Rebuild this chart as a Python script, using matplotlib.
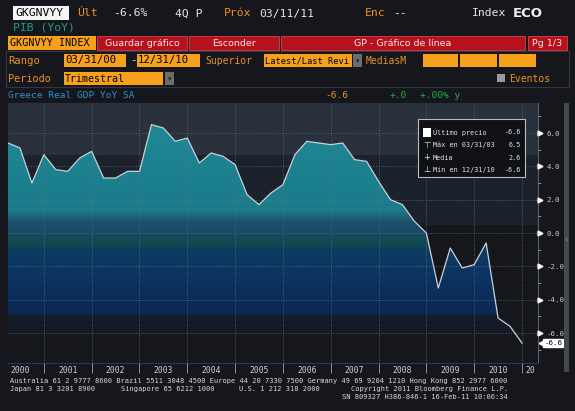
import numpy as np
import matplotlib
matplotlib.use('Agg')
import matplotlib.pyplot as plt
from matplotlib.colors import LinearSegmentedColormap
from matplotlib.patches import Rectangle
from matplotlib.transforms import blended_transform_factory

# Greece real GDP YoY SA, quarterly 2000Q1 - 2010Q4
years = np.repeat(np.arange(2000, 2011), 4)
quarters = np.tile([1, 2, 3, 4], 11)
gdp_yoy = [5.4, 5.1, 3.0, 4.7,
           3.8, 3.7, 4.5, 4.9,
           3.3, 3.3, 3.7, 3.7,
           6.5, 6.3, 5.5, 5.7,
           4.2, 4.8, 4.6, 4.1,
           2.3, 1.7, 2.4, 2.9,
           4.7, 5.5, 5.4, 5.3,
           5.4, 4.4, 4.3, 3.1,
           2.0, 1.7, 0.7, 0.0,
           -3.3, -0.9, -2.1, -1.9,
           -0.6, -5.1, -5.6, -6.6]
year_labels = ['2000', '2001', '2002', '2003', '2004', '2005',
               '2006', '2007', '2008', '2009', '2010', '20']
yticks = [-6, -4, -2, 0, 2, 4, 6]
quarter_end = {1: '03/31', 2: '06/30', 3: '09/30', 4: '12/31'}

BG = '#16171c'
ORANGE = '#e8922a'
OBOX = '#f6a01c'
RED = '#b5121e'
WHITE = '#e6e6e6'
MONO = 'DejaVu Sans Mono'

W, H = 575, 411
fig = plt.figure(figsize=(W / 100, H / 100), dpi=100, facecolor=BG)


def T(x, y, s, **kw):
    kw.setdefault('family', MONO)
    kw.setdefault('va', 'center')
    kw.setdefault('color', WHITE)
    kw.setdefault('fontsize', 7.5)
    fig.text(x / W, 1 - y / H, s, **kw)


def box(x0, y0, x1, y1, fc, **kw):
    fig.patches.append(Rectangle((x0 / W, 1 - y1 / H), (x1 - x0) / W, (y1 - y0) / H,
                                 transform=fig.transFigure, facecolor=fc, **kw))


# ---- header ----
box(13, 6, 69, 20, '#f4f4f4', lw=0)
T(15, 13.5, 'GKGNVYY', color='black', fontsize=8.2)
T(77, 13.5, 'Últ', color=ORANGE, fontsize=8.2)
T(113, 13.5, '-6.6%', fontsize=8.2)
T(175, 13.5, '4Q P', fontsize=8.2)
T(224, 13.5, 'Próx', color=ORANGE, fontsize=8.2)
T(259, 13.5, '03/11/11', fontsize=8.2)
T(365, 13.5, 'Enc', color=ORANGE, fontsize=8.2)
T(393, 13.5, '--', fontsize=8.2)
T(472, 13.5, 'Index', fontsize=8.2)
T(513, 13.5, 'ECO', family='DejaVu Sans', weight='bold', fontsize=9.5, color='#f0f0f0')
T(13, 28, 'PIB (YoY)', color='#1f9e8c', fontsize=8.2)

box(8, 36, 96, 50, OBOX, lw=0)
T(10, 43, 'GKGNVYY INDEX', color='black', fontsize=7.3)
for x0, x1, s in [(97, 187, 'Guardar gráfico'), (189, 279, 'Esconder'),
                  (281, 525, 'GP - Gráfico de línea'), (528, 567, 'Pg 1/3')]:
    box(x0, 36, x1, 50, RED, edgecolor='#d8404c', lw=0.6)
    T((x0 + x1) / 2, 43, s, ha='center', family='DejaVu Sans', color='#ffe6e6', fontsize=6.8)

fig.patches.append(Rectangle((6 / W, 1 - 87 / H), 563 / W, 36 / H, transform=fig.transFigure,
                             facecolor='none', edgecolor='#34363d', lw=0.8))
T(8, 60.5, 'Rango', color=ORANGE, fontsize=7.6)
box(64, 54, 126, 67, OBOX, lw=0)
T(65, 60.5, '03/31/00', color='black', fontsize=7.7)
T(130, 60.5, '-', fontsize=7.6)
box(137, 54, 200, 67, OBOX, lw=0)
T(138, 60.5, '12/31/10', color='black', fontsize=7.7)
T(205, 60.5, 'Superior', color=ORANGE, fontsize=7.0)
box(264, 54, 352, 67, OBOX, lw=0)
T(265, 60.5, 'Latest/Last Revi', color='black', fontsize=6.3)
box(353, 54, 362, 67, '#6c6c6c', lw=0)
T(357.5, 61, '▾', ha='center', color='#222222', fontsize=5, family='DejaVu Sans')
T(366, 60.5, 'MediasM', color=ORANGE, fontsize=7.0)
for x0, x1 in [(423, 458), (460, 497), (499, 536)]:
    box(x0, 54, x1, 67, OBOX, lw=0)

T(8, 78.5, 'Periodo', color=ORANGE, fontsize=7.4)
box(64, 72, 163, 85, OBOX, lw=0)
T(65, 78.5, 'Trimestral', color='black', fontsize=7.2)
box(165, 72, 174, 85, '#6c6c6c', lw=0)
T(169.5, 79, '▾', ha='center', color='#222222', fontsize=5, family='DejaVu Sans')
box(497, 74, 505, 82, '#9a9a9a', lw=0)
T(509, 78.5, 'Eventos', color=ORANGE, fontsize=7.0)

T(8, 96, 'Greece Real GDP YoY SA', color='#2b8fcc', fontsize=6.8)
T(325, 96, f'{gdp_yoy[-1]:.1f}', color=ORANGE, fontsize=6.8)
T(390, 96, '+.0', color='#22b04a', fontsize=6.8)
T(420, 96, '+.00% y', color='#22b04a', fontsize=6.8)

# ---- chart ----
x = years + quarters / 4.0
ymin, ymax = -7.8, 7.8
xmin, xmax = 2000.25, 2011.335

ax = fig.add_axes([8 / W, 1 - 363 / H, 530 / W, 260 / H])
ax.set_facecolor(BG)
ax.axhspan(4.7, ymax, color='#28313c', lw=0, zorder=0)
ax.axhspan(0.5, 4.7, color='#1c222c', lw=0, zorder=0)

stops = [(7.8, '#1f8b99'), (1.3, '#1b7b8a'), (0.9, '#1d5f78'), (0.6, '#1d4f6c'),
         (0.0, '#1a4966'), (-0.4, '#134a52'), (-0.9, '#114450'), (-1.0, '#0e3c62'),
         (-2.2, '#0c3662'), (-4.0, '#0a2d5a'), (-4.9, '#0a2852'), (-5.0, '#141c2a'),
         (-6.0, '#141a26'), (-6.1, BG), (-7.8, BG)]
cmap = LinearSegmentedColormap.from_list(
    'bbg', [((v - ymin) / (ymax - ymin), c) for v, c in stops[::-1]])
poly = ax.fill_between(x, gdp_yoy, ymin, facecolor='none', lw=0)
im = ax.imshow(np.linspace(0, 1, 400).reshape(-1, 1), extent=[xmin, xmax, ymin, ymax],
               origin='lower', aspect='auto', cmap=cmap, zorder=1, interpolation='nearest')
im.set_clip_path(poly.get_paths()[0], ax.transData)
ax.plot(x, gdp_yoy, color='#c9d1d8', lw=0.9, zorder=3)

ax.set_xlim(xmin, xmax)
ax.set_ylim(ymin, ymax)

ax.set_xticks([2000.5 + i for i in range(11)] + [2011.17])
ax.set_xticklabels(year_labels)
ax.set_xticks(np.arange(2001, 2012), minor=True)
ax.tick_params(axis='x', which='major', length=0, pad=2, labelsize=5.8,
               labelcolor='#d0d0d0', labelfontfamily=MONO)
ax.tick_params(axis='x', which='minor', length=7.5, width=0.7, color='#8c8c94')
ax.xaxis.grid(True, which='minor', ls=(0, (1, 2)), color='#66707c', lw=0.6, zorder=2)

ax.yaxis.tick_right()
ax.set_yticks(yticks)
ax.set_yticklabels([f'{v:.1f}' for v in yticks])
ax.set_yticks(np.arange(-7, 8, 2), minor=True)
ax.tick_params(axis='y', which='major', length=0, pad=6, labelsize=5.4,
               labelcolor='#c8c8c8', labelfontfamily=MONO)
ax.tick_params(axis='y', which='minor', length=2, width=0.7, color='#8c8c94')
ax.yaxis.grid(True, which='major', ls=(0, (1, 2)), color='#66707c', lw=0.6, zorder=2)
ax.set_axisbelow(False)

for side in ['left', 'top']:
    ax.spines[side].set_visible(False)
ax.spines['right'].set_color('#5c6068')
ax.spines['right'].set_linewidth(0.8)
ax.spines['bottom'].set_color('#2c3c90')
ax.spines['bottom'].set_linestyle(':')

tr = blended_transform_factory(ax.transAxes, ax.transData)
ax.plot([1.004] * len(yticks), yticks, ls='none', marker='>', ms=3.5, color='white',
        transform=tr, clip_on=False, zorder=5)

last = gdp_yoy[-1]
ax.plot([1.006], [last], marker='<', ms=3.5, color='white', transform=tr, clip_on=False)
ax.text(1.012, last, f'{last:.1f}', transform=tr, ha='left', va='center', fontsize=5.4,
        family=MONO, color='black',
        bbox=dict(boxstyle='square,pad=0.15', fc='white', ec='white'))

# legend box
imax = int(np.argmax(gdp_yoy))
imin = int(np.argmin(gdp_yoy))
date = lambda i: f'{quarter_end[quarters[i]]}/{years[i] % 100:02d}'
box(418, 119, 525, 177, '#0f1117', edgecolor='#b8bcc0', lw=0.8, zorder=10)
box(423, 128, 431, 137, 'white', lw=0, zorder=11)
rows = [('Último precio', last), (f'Máx en {date(imax)}', gdp_yoy[imax]),
        ('Media', np.mean(gdp_yoy)), (f'Mín en {date(imin)}', gdp_yoy[imin])]
syms = ['', '⊤', '+', '⊥']
for k, (lab, val) in enumerate(rows):
    yy = 132.5 + k * 12.5
    if syms[k]:
        T(427, yy, syms[k], ha='center', family='DejaVu Sans', fontsize=6, zorder=11)
    T(433, yy, lab, fontsize=4.9, zorder=11)
    T(521, yy, f'{val:.1f}', ha='right', fontsize=4.9, zorder=11)
fig.lines.append(plt.Line2D([422 / W, 432 / W], [1 - 157.5 / H] * 2, transform=fig.transFigure,
                            color=WHITE, lw=0.6))

# scrollbar
box(564, 103, 569, 372, '#45484f', lw=0)
T(566.5, 240, '‹', ha='center', color='#a0a0a0', fontsize=6, family='DejaVu Sans')

# ---- footer ----
fs = 5.0
T(10, 381, 'Australia 61 2 9777 8600 Brazil 5511 3048 4500 Europe 44 20 7330 7500 '
           'Germany 49 69 9204 1210 Hong Kong 852 2977 6000', fontsize=fs, color='#d8d8d8')
T(10, 389, 'Japan 81 3 3201 8900', fontsize=fs, color='#d8d8d8')
T(121, 389, 'Singapore 65 6212 1000', fontsize=fs, color='#d8d8d8')
T(239, 389, 'U.S. 1 212 318 2000', fontsize=fs, color='#d8d8d8')
T(508, 389, 'Copyright 2011 Bloomberg Finance L.P.', ha='right', fontsize=fs, color='#d8d8d8')
T(508, 397, 'SN 809327 H386-846-1 16-Feb-11 10:06:34', ha='right', fontsize=fs, color='#d8d8d8')

fig.savefig('out.png', dpi=100, facecolor=BG)
